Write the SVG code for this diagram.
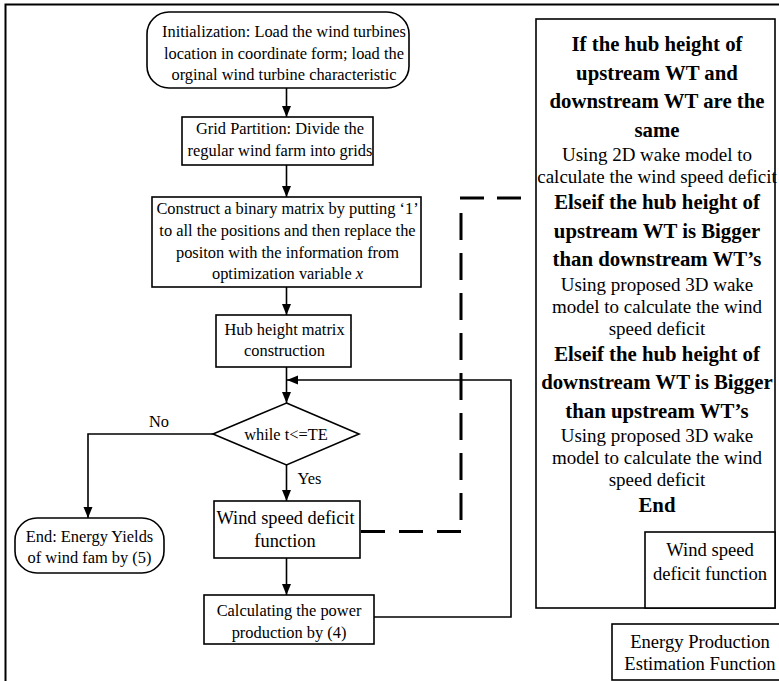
<svg xmlns="http://www.w3.org/2000/svg" width="779" height="681" viewBox="0 0 779 681">
  <style>
    .box { fill: #fff; stroke: #000; stroke-width: 1.6; }
    .frame { fill: none; stroke: #000; stroke-width: 2; }
    .line { fill: none; stroke: #000; stroke-width: 1.6; }
    .dash { fill: none; stroke: #000; stroke-width: 3; }
    text { font-family: "Liberation Serif", "Times New Roman", serif; fill: #000; text-anchor: middle; }
    .t { font-size: 16.4px; }
    .tl { font-size: 18.4px; }
    .b { font-size: 20.8px; font-weight: bold; }
    .r { font-size: 19px; }
    .s { font-size: 18.6px; }
    .lbl { text-anchor: start; }
  </style>
  <defs>
    <marker id="arrow" markerUnits="userSpaceOnUse" markerWidth="12" markerHeight="10" refX="11" refY="4.5" orient="auto">
      <path d="M0,0 L11,4.5 L0,9 z" fill="#000"/>
    </marker>
  </defs>

  <rect width="779" height="681" fill="#fff"/>

  <!-- outer frame (runs past the right and bottom edges) -->
  <rect class="frame" x="5.5" y="4.5" width="820" height="720"/>

  <!-- connectors -->
  <g id="connectors">
    <line class="line" x1="286.5" y1="88" x2="286.5" y2="117" marker-end="url(#arrow)"/>
    <line class="line" x1="286.5" y1="165" x2="286.5" y2="197" marker-end="url(#arrow)"/>
    <line class="line" x1="286.5" y1="287" x2="286.5" y2="315" marker-end="url(#arrow)"/>
    <line class="line" x1="286.5" y1="367" x2="286.5" y2="403" marker-end="url(#arrow)"/>
    <polyline class="line" points="374,617 511,617 511,380 287,380" marker-end="url(#arrow)"/>
    <polyline class="line" points="213,434 88,434 88,518" marker-end="url(#arrow)"/>
    <line class="line" x1="286.5" y1="465" x2="286.5" y2="501" marker-end="url(#arrow)"/>
    <line class="line" x1="286.5" y1="558" x2="286.5" y2="595" marker-end="url(#arrow)"/>
    <!-- dashed link from the deficit step to its detail box -->
    <path class="dash" d="M361 531.5 H461" stroke-dasharray="24 14"/>
    <path class="dash" d="M461 520 V213" stroke-dasharray="27 13"/>
    <path class="dash" d="M460 198 H522" stroke-dasharray="24 13"/>
    <text class="t lbl" x="149" y="427">No</text>
    <text class="t lbl" x="297.5" y="484">Yes</text>
  </g>

  <g id="init">
    <rect class="box" x="147" y="12" width="262" height="76" rx="22" ry="22"/>
    <text class="t" x="284" y="37">Initialization: Load the wind turbines</text>
    <text class="t" x="284" y="58.5">location in coordinate form; load the</text>
    <text class="t" x="284" y="80">orginal wind turbine characteristic</text>
  </g>

  <g id="grid">
    <rect class="box" x="182" y="117" width="191" height="48"/>
    <text class="t" x="280" y="133.5">Grid Partition: Divide the</text>
    <text class="t" x="280" y="155.5">regular wind farm into grids</text>
  </g>

  <g id="construct">
    <rect class="box" x="152" y="197" width="269" height="90"/>
    <text class="t" x="287.5" y="213.5">Construct a binary matrix by putting ‘1’</text>
    <text class="t" x="287.5" y="235.5">to all the positions and then replace the</text>
    <text class="t" x="287.5" y="257.5">positon with the information from</text>
    <text class="t" x="287.5" y="279">optimization variable <tspan font-style="italic">x</tspan></text>
  </g>

  <g id="hub">
    <rect class="box" x="216" y="315" width="135" height="52"/>
    <text class="t" x="284.5" y="334.5">Hub height matrix</text>
    <text class="t" x="284.5" y="355.5">construction</text>
  </g>

  <g id="loop">
    <polygon class="box" points="286.5,403 359,434 286.5,465 213,434"/>
    <text class="t" x="286" y="439.5">while t&lt;=TE</text>
  </g>

  <g id="end">
    <rect class="box" x="15" y="518" width="149" height="55" rx="22" ry="22"/>
    <text class="t" x="89.5" y="541.5">End: Energy Yields</text>
    <text class="t" x="89.5" y="562.5">of wind fam by (5)</text>
  </g>

  <g id="deficit">
    <rect class="box" x="214" y="501" width="146" height="57"/>
    <text class="tl" x="285.5" y="524">Wind speed deficit</text>
    <text class="tl" x="285" y="547">function</text>
  </g>

  <g id="power">
    <rect class="box" x="204" y="595" width="170" height="49"/>
    <text class="t" x="289" y="615.5">Calculating the power</text>
    <text class="t" x="289" y="638">production by (4)</text>
  </g>

  <g id="deficit-detail">
    <rect class="box" x="536" y="19" width="239" height="589"/>
    <text class="b" x="657" y="51">If the hub height of</text>
    <text class="b" x="657" y="79.5">upstream WT and</text>
    <text class="b" x="657" y="108">downstream WT are the</text>
    <text class="b" x="657" y="136.5">same</text>
    <text class="r" x="657" y="161.2">Using 2D wake model to</text>
    <text class="r" x="657" y="183.2">calculate the wind speed deficit</text>
    <text class="b" x="657" y="209">Elseif the hub height of</text>
    <text class="b" x="657" y="237.5">upstream WT is Bigger</text>
    <text class="b" x="657" y="266">than downstream WT’s</text>
    <text class="r" x="657" y="290.7">Using proposed 3D wake</text>
    <text class="r" x="657" y="312.7">model to calculate the wind</text>
    <text class="r" x="657" y="334.7">speed deficit</text>
    <text class="b" x="657" y="360.5">Elseif the hub height of</text>
    <text class="b" x="657" y="389">downstream WT is Bigger</text>
    <text class="b" x="657" y="417.5">than upstream WT’s</text>
    <text class="r" x="657" y="442.2">Using proposed 3D wake</text>
    <text class="r" x="657" y="464.2">model to calculate the wind</text>
    <text class="r" x="657" y="486.2">speed deficit</text>
    <text class="b" x="657" y="512">End</text>
  </g>

  <g id="deficit-title">
    <rect class="box" x="645" y="532" width="130" height="76"/>
    <text class="s" x="710" y="556">Wind speed</text>
    <text class="s" x="710" y="579.5">deficit function</text>
  </g>

  <g id="energy-title">
    <rect class="box" x="612" y="624" width="180" height="56"/>
    <text class="s" x="700" y="648">Energy Production</text>
    <text class="s" x="700" y="669.5">Estimation Function</text>
  </g>
</svg>
